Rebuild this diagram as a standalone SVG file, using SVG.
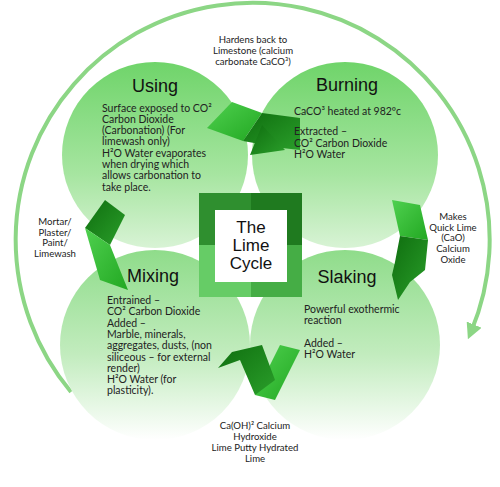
<svg xmlns="http://www.w3.org/2000/svg" width="500" height="487" viewBox="0 0 500 487">
<defs>
<linearGradient id="gTop" x1="0" y1="0" x2="0" y2="1">
<stop offset="0" stop-color="#6fd46a"/>
<stop offset="0.6" stop-color="#a6e5a0"/>
<stop offset="1" stop-color="#d8f3d5"/>
</linearGradient>
<linearGradient id="gBot" x1="0" y1="0" x2="0" y2="1">
<stop offset="0" stop-color="#8fdc8a"/>
<stop offset="0.55" stop-color="#c2ecbe"/>
<stop offset="1" stop-color="#ffffff"/>
</linearGradient>
<linearGradient id="gBright" x1="0" y1="0" x2="1" y2="1">
<stop offset="0" stop-color="#4fd04f"/>
<stop offset="1" stop-color="#22a822"/>
</linearGradient>
<linearGradient id="gDark" x1="0" y1="0" x2="1" y2="1">
<stop offset="0" stop-color="#0f6e0f"/>
<stop offset="1" stop-color="#2a9e2a"/>
</linearGradient>
<marker id="ah" viewBox="0 0 10 10" refX="5" refY="5" markerWidth="4" markerHeight="4" orient="auto" markerUnits="strokeWidth">
<path d="M0,0 L10,5 L0,10 z" fill="#8cd685"/>
</marker>
<style>
.t{font-family:Lato,"Liberation Sans",sans-serif;font-size:10.5px;fill:#222}
.tc{font-family:Lato,"Liberation Sans",sans-serif;font-size:9.6px;fill:#222;text-anchor:middle}
.h{font-family:"Liberation Sans",Arial,sans-serif;font-size:18px;fill:#111;text-anchor:middle}
.hc{font-family:"Liberation Sans",Arial,sans-serif;font-size:17px;fill:#111;text-anchor:middle}
.ring{fill:none;stroke:#8cd685;stroke-width:4}
.br{fill:url(#gBright)}
.dk{fill:url(#gDark)}
</style>
</defs>
<g id="ring" class="connectors">
<path class="ring" d="M 71 392 A 237 237 0 1 1 471 332" marker-end="url(#ah)"/>
</g>
<g id="using">
<circle cx="155" cy="155" r="93" fill="url(#gTop)"/>
</g>
<g id="burning">
<circle cx="345" cy="155" r="93" fill="url(#gTop)"/>
</g>
<g id="mixing">
<circle cx="155" cy="345" r="95" fill="url(#gBot)"/>
</g>
<g id="slaking">
<circle cx="345" cy="345" r="95" fill="url(#gBot)"/>
</g>
<g id="arrows">
<polygon class="br" points="207,128 232,102 262,113 243,141"/>
<polygon class="dk" points="243,141 262,113 300,118 300,150 282,148"/>
<polygon class="dk" points="250,155 262,125 285,150"/>
<polygon class="br" points="392,200 420,205 428,240 400,236"/>
<polygon class="dk" points="400,236 428,240 425,270 410,282 398,300 392,275 395,262"/>
<polygon class="br" points="300,350 275,400 255,395 280,345"/>
<polygon class="dk" points="255,395 240,360 218,368 232,352 262,345 275,380"/>
<polygon class="dk" points="85,228 105,200 125,215 110,245"/>
<polygon class="br" points="85,228 110,245 128,290 100,280"/>
</g>
<g id="center">
<rect x="199" y="193" width="52" height="52" fill="#2f8f2f"/>
<rect x="251" y="193" width="51" height="52" fill="#1f7a1f"/>
<rect x="199" y="245" width="52" height="52" fill="#66cc66"/>
<rect x="251" y="245" width="51" height="52" fill="#45ad45"/>
<rect x="215" y="210" width="72" height="72" fill="#ffffff"/>
<text class="hc" x="251" y="233">The</text>
<text class="hc" x="251" y="251">Lime</text>
<text class="hc" x="251" y="269">Cycle</text>
</g>
<g id="labels">
<text class="h" x="155" y="92">Using</text>
<text class="t"><tspan x="102" y="111.5">Surface exposed to CO²</tspan><tspan x="102" y="122.8">Carbon Dioxide</tspan><tspan x="102" y="134.1">(Carbonation) (For</tspan><tspan x="102" y="145.4">limewash only)</tspan><tspan x="102" y="156.7">H²O Water evaporates</tspan><tspan x="102" y="168">when drying which</tspan><tspan x="102" y="179.3">allows carbonation to</tspan><tspan x="102" y="190.6">take place.</tspan></text>
<text class="h" x="347" y="91">Burning</text>
<text class="t"><tspan x="294" y="115">CaCO³ heated at 982ºc</tspan><tspan x="294" y="135">Extracted –</tspan><tspan x="294" y="146.5">CO² Carbon Dioxide</tspan><tspan x="294" y="158">H²O Water</tspan></text>
<text class="h" x="153" y="282">Mixing</text>
<text class="t"><tspan x="107" y="304">Entrained –</tspan><tspan x="107" y="315.3">CO² Carbon Dioxide</tspan><tspan x="107" y="326.6">Added –</tspan><tspan x="107" y="337.9">Marble, minerals,</tspan><tspan x="107" y="349.2">aggregates, dusts, (non</tspan><tspan x="107" y="360.5">siliceous – for external</tspan><tspan x="107" y="371.8">render)</tspan><tspan x="107" y="383.1">H²O Water (for</tspan><tspan x="107" y="394.4">plasticity).</tspan></text>
<text class="h" x="347" y="283">Slaking</text>
<text class="t"><tspan x="304" y="313">Powerful exothermic</tspan><tspan x="304" y="324">reaction</tspan><tspan x="304" y="347">Added –</tspan><tspan x="304" y="358">H²O Water</tspan></text>
<text class="tc"><tspan x="253" y="43">Hardens back to</tspan><tspan x="253" y="54">Limestone (calcium</tspan><tspan x="253" y="65">carbonate CaCO³)</tspan></text>
<text class="tc"><tspan x="453" y="220">Makes</tspan><tspan x="453" y="230.7">Quick Lime</tspan><tspan x="453" y="241.4">(CaO)</tspan><tspan x="453" y="252.1">Calcium</tspan><tspan x="453" y="262.8">Oxide</tspan></text>
<text class="tc"><tspan x="55" y="225">Mortar/</tspan><tspan x="55" y="235.5">Plaster/</tspan><tspan x="55" y="246">Paint/</tspan><tspan x="55" y="256.5">Limewash</tspan></text>
<text class="tc"><tspan x="255" y="429">Ca(OH)² Calcium</tspan><tspan x="255" y="440">Hydroxide</tspan><tspan x="255" y="451">Lime Putty Hydrated</tspan><tspan x="255" y="462">Lime</tspan></text>
</g>
</svg>
